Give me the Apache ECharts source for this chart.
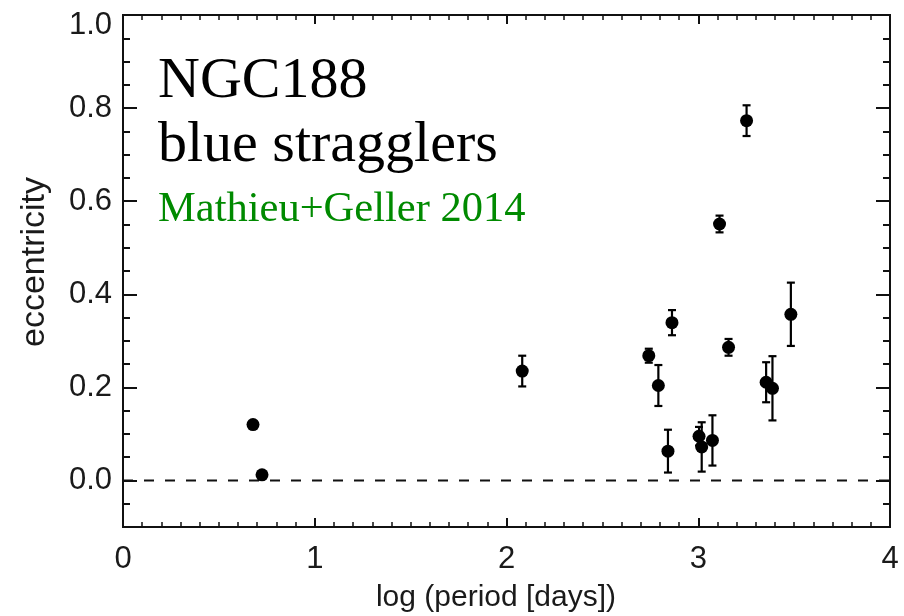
<!DOCTYPE html>
<html>
<head>
<meta charset="utf-8">
<script src="https://cdn.jsdelivr.net/npm/echarts@6/dist/echarts.min.js"></script>
<style>
  html, body { margin: 0; padding: 0; background: #fff; }
  #chart { width: 904px; height: 616px; }
</style>
</head>
<body>
<div id="chart"></div>
<script>
// Blue straggler binaries in NGC 188: orbital period vs eccentricity
const logPeriod = [0.678, 0.725, 2.082, 2.742, 2.792, 2.842, 2.863, 3.004, 3.018, 3.074, 3.111, 3.158, 3.252, 3.354, 3.387, 3.483];
const eccentricity = [0.120, 0.012, 0.235, 0.268, 0.204, 0.063, 0.339, 0.095, 0.072, 0.086, 0.551, 0.286, 0.773, 0.211, 0.198, 0.357];
const eccError = [null, null, 0.033, 0.015, 0.044, 0.046, 0.027, 0.020, 0.053, 0.054, 0.018, 0.018, 0.033, 0.043, 0.069, 0.068];

const xTicks = [0, 1, 2, 3, 4];
const yMajorTicks = [0.0, 0.2, 0.4, 0.6, 0.8, 1.0];
const yMinorTicks = [-0.05, 0.05, 0.1, 0.15, 0.25, 0.3, 0.35, 0.45, 0.5, 0.55, 0.65, 0.7, 0.75, 0.85, 0.9, 0.95];
const zeroLevel = 0;

const titleLines = ['NGC188', 'blue stragglers'];
const sourceNote = 'Mathieu+Geller 2014';

const chart = echarts.init(document.getElementById('chart'), null, { renderer: 'canvas' });

const sans = 'Liberation Sans, Arial, sans-serif';
const serif = 'Liberation Serif, Times New Roman, serif';
const ink = '#111';

function xAxisCfg(pos, labels) {
  return {
    type: 'value', position: pos, min: xTicks[0], max: xTicks[xTicks.length - 1], interval: 1,
    axisLine: { show: true, onZero: false, lineStyle: { color: ink, width: 2 } },
    axisTick: { show: true, inside: true, length: 9, lineStyle: { color: ink, width: 2 } },
    minorTick: { show: true, splitNumber: 10, length: 5, lineStyle: { color: ink, width: 1.5 } },
    axisLabel: { show: labels, fontFamily: sans, fontSize: 31, color: '#1a1a1a', margin: 17 },
    splitLine: { show: false }, minorSplitLine: { show: false }
  };
}
function yAxisCfg(pos, ticks, len, labels) {
  return {
    type: 'value', position: pos, min: -0.1, max: 1.0,
    axisLine: { show: true, onZero: false, lineStyle: { color: ink, width: 2 } },
    axisTick: { show: true, inside: true, length: len, customValues: ticks, lineStyle: { color: ink, width: 2 } },
    axisLabel: labels ? {
      show: true, customValues: ticks, fontFamily: sans, fontSize: 31, color: '#1a1a1a', margin: 11,
      // the topmost label sits a little lower so it stays clear of the frame edge
      formatter: v => (Number(v) >= 1 ? '{top|' + Number(v).toFixed(1) + '}' : Number(v).toFixed(1)),
      rich: { top: { fontFamily: sans, fontSize: 31, color: '#1a1a1a', padding: [20, 0, 0, 0] } }
    } : { show: false },
    splitLine: { show: false }
  };
}

const errData = [];
logPeriod.forEach((x, i) => { if (eccError[i] != null) errData.push([x, eccentricity[i], eccError[i]]); });

const option = {
  animation: false,
  backgroundColor: '#fff',
  grid: { left: 123, top: 15, right: 14, bottom: 89, containLabel: false },
  xAxis: [xAxisCfg('bottom', true), xAxisCfg('top', false)],
  yAxis: [
    yAxisCfg('left', yMajorTicks, 14, true),
    yAxisCfg('left', yMinorTicks, 7, false),
    yAxisCfg('right', yMajorTicks, 14, false),
    yAxisCfg('right', yMinorTicks, 7, false)
  ],
  series: [
    {
      type: 'line', xAxisIndex: 0, yAxisIndex: 0, silent: true, symbol: 'none',
      data: [[xTicks[0], zeroLevel], [xTicks[xTicks.length - 1], zeroLevel]],
      lineStyle: { color: ink, width: 2, type: [10, 11] }, z: 1
    },
    {
      type: 'custom', xAxisIndex: 0, yAxisIndex: 0, z: 2,
      data: errData,
      renderItem: function (params, api) {
        const x = api.value(0), y = api.value(1), e = api.value(2);
        const top = api.coord([x, y + e]);
        const bot = api.coord([x, y - e]);
        const cap = 4;
        const st = { stroke: '#000', lineWidth: 2.2 };
        return {
          type: 'group',
          children: [
            { type: 'line', shape: { x1: top[0], y1: top[1], x2: bot[0], y2: bot[1] }, style: st },
            { type: 'line', shape: { x1: top[0] - cap, y1: top[1], x2: top[0] + cap, y2: top[1] }, style: st },
            { type: 'line', shape: { x1: bot[0] - cap, y1: bot[1], x2: bot[0] + cap, y2: bot[1] }, style: st }
          ]
        };
      }
    },
    {
      type: 'scatter', xAxisIndex: 0, yAxisIndex: 0, z: 3,
      symbol: 'circle', symbolSize: 13,
      itemStyle: { color: '#000', opacity: 1 },
      data: logPeriod.map((x, i) => [x, eccentricity[i]])
    }
  ],
  graphic: [
    { type: 'text', left: 158, top: 53, style: { text: titleLines[0], font: '58px ' + serif, fill: '#000' } },
    { type: 'text', left: 158, top: 117, style: { text: titleLines[1], font: '58px ' + serif, fill: '#000' } },
    { type: 'text', left: 158, top: 188, style: { text: sourceNote, font: '42.5px ' + serif, fill: '#008a00' } },
    { type: 'text', x: 35, y: 262, rotation: Math.PI / 2,
      style: { text: 'eccentricity', font: '34px ' + sans, fill: '#1a1a1a', textAlign: 'center', textVerticalAlign: 'middle' } },
    { type: 'text', x: 496, y: 598,
      style: { text: 'log (period [days])', font: '30px ' + sans, fill: '#1a1a1a', textAlign: 'center', textVerticalAlign: 'middle' } }
  ]
};

chart.setOption(option);
</script>
</body>
</html>
